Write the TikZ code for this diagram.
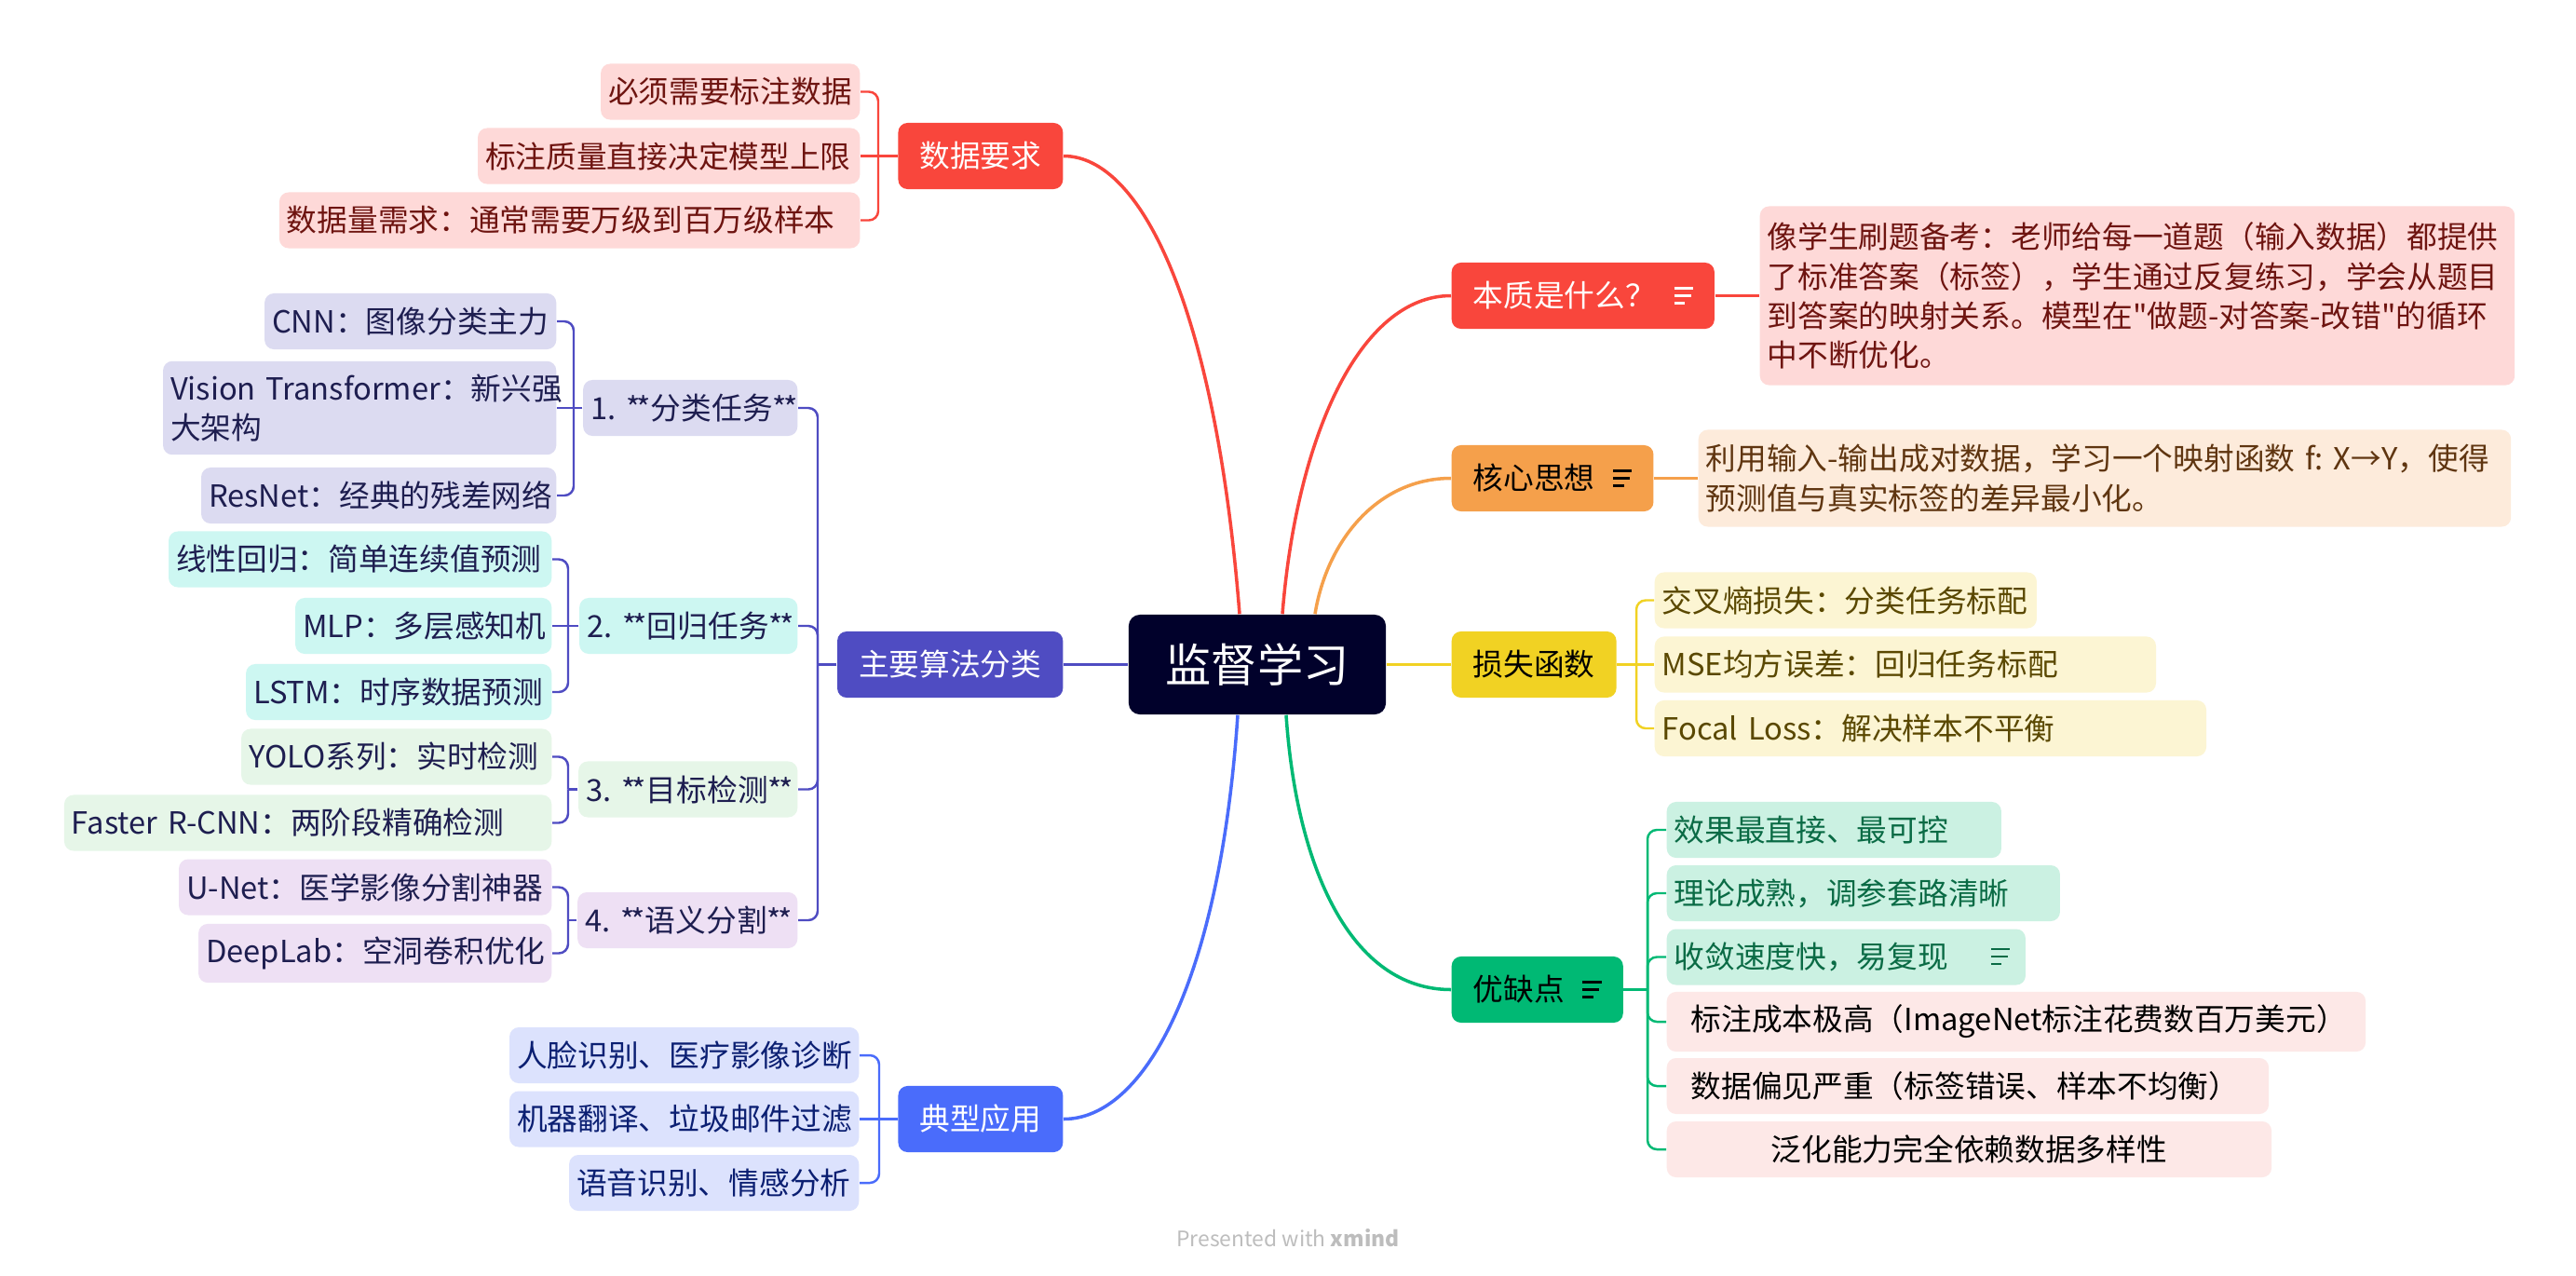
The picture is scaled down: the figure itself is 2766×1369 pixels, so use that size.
\documentclass[tikz,border=0pt]{standalone}
\usepackage{fontspec}
\setmainfont{Noto Sans CJK SC}
\usetikzlibrary{positioning, calc}
\frenchspacing

\definecolor{rootbg}{HTML}{01012B}
\definecolor{mmred}{HTML}{F9463C}
\definecolor{redfill}{HTML}{FED9D8}
\definecolor{redtext}{HTML}{6E1410}
\definecolor{mmpurple}{HTML}{4F4CC2}
\definecolor{clsfill}{HTML}{DCDBF1}
\definecolor{regfill}{HTML}{CDF7F2}
\definecolor{detfill}{HTML}{E6F6E8}
\definecolor{segfill}{HTML}{EEE0F4}
\definecolor{algotext}{HTML}{1E1E50}
\definecolor{mmblue}{HTML}{4A6CFB}
\definecolor{appfill}{HTML}{DCE2FD}
\definecolor{apptext}{HTML}{0B1F72}
\definecolor{mmorange}{HTML}{F5A04B}
\definecolor{corefill}{HTML}{FDEBDB}
\definecolor{coretext}{HTML}{5F3510}
\definecolor{mmyellow}{HTML}{F1D223}
\definecolor{lossfill}{HTML}{FCF5D3}
\definecolor{losstext}{HTML}{5A4800}
\definecolor{mmgreen}{HTML}{00B974}
\definecolor{profill}{HTML}{CBF1E2}
\definecolor{protext}{HTML}{0A6B45}
\definecolor{confill}{HTML}{FDE8E7}
\definecolor{watermark}{HTML}{BDBDBD}

\newcommand{\leaffont}{\fontsize{9.3}{12}\selectfont}
\newcommand{\rootfont}{\fontsize{14}{17}\selectfont}
% xmind note marker
\newcommand{\noteicon}[1][0.6em]{\hspace{#1}\raisebox{0.1em}{\vbox{\hrule width 0.62em height 0.075em \vskip 0.17em \hrule width 0.55em height 0.075em \vskip 0.17em \hrule width 0.35em height 0.075em}}}
% tight double star of the category labels
\newcommand{\stars}{*\kern-0.12em*}

\tikzset{
  rootbox/.style={fill=rootbg, text=white, rounded corners=0.12cm, minimum width=2.76cm, minimum height=1.07cm, font=\rootfont},
  topic/.style={rounded corners=0.1cm, inner xsep=0.23cm, minimum height=0.71cm, font=\leaffont},
  leaf/.style={rounded corners=0.1cm, inner xsep=0.08cm, inner ysep=0.14cm, minimum height=0.6cm, align=left, font=\leaffont},
  dataleaf/.style={leaf, fill=redfill, text=redtext, anchor=east},
  algoleaf/.style={leaf, text=algotext, anchor=east},
  appleaf/.style={leaf, fill=appfill, text=apptext, anchor=east},
  lossleaf/.style={leaf, fill=lossfill, text=losstext, anchor=west},
  proleaf/.style={leaf, fill=profill, text=protext, anchor=west},
  conleaf/.style={leaf, fill=confill, text=black, anchor=west},
  mainline/.style={line width=1pt},
  branch/.style={line width=0.7pt, rounded corners=0.1cm},
}

\begin{document}
\begin{tikzpicture}[x=0.01cm, y=-0.01cm]
  \fill[white] (0,0) rectangle (2766,1369);
  \useasboundingbox (0,0) rectangle (2766,1369);

  % centre and main topics
  \node[rootbox] (root) at (1350,713.5) {监督学习};
  \node[topic, fill=mmred, text=white, anchor=east] (data) at (1142,167.5) {数据要求};
  \node[topic, fill=mmpurple, text=white, anchor=east] (algo) at (1142,713.5) {主要算法分类};
  \node[topic, fill=mmblue, text=white, anchor=east] (app) at (1142,1201.5) {典型应用};
  \node[topic, fill=mmred, text=white, anchor=west] (ess) at (1558,317.5) {本质是什么？\noteicon};
  \node[topic, fill=mmorange, anchor=west] (core) at (1558,513.5) {核心思想\noteicon};
  \node[topic, fill=mmyellow, anchor=west] (loss) at (1558,713.5) {损失函数};
  \node[topic, fill=mmgreen, anchor=west] (pros) at (1558,1062.5) {优缺点\noteicon};

  % data requirements
  \node[dataleaf, text width=2.62cm] (d1) at (924,98.5) {必须需要标注数据};
  \node[dataleaf, text width=3.94cm] (d2) at (924,167.5) {标注质量直接决定模型上限};
  \node[dataleaf, text width=6.07cm] (d3) at (924,236.5) {数据量需求：通常需要万级到百万级样本};

  % algorithm families
  \node[algoleaf, fill=clsfill, text width=2.14cm] (c1) at (857,438) {\mbox{1. \stars 分类任务\stars}};
  \node[algoleaf, fill=regfill, text width=2.18cm] (c2) at (857,672) {\mbox{2. \stars 回归任务\stars}};
  \node[algoleaf, fill=detfill, text width=2.19cm] (c3) at (857,847.5) {\mbox{3. \stars 目标检测\stars}};
  \node[algoleaf, fill=segfill, text width=2.20cm] (c4) at (857,988) {\mbox{4. \stars 语义分割\stars}};
  \node[algoleaf, fill=clsfill, text width=2.97cm] (cnn) at (598,345) {CNN：图像分类主力};
  \node[algoleaf, fill=clsfill, text width=4.06cm] (vit) at (598,438) {\mbox{Vision Transformer：新兴强}\\大架构};
  \node[algoleaf, fill=clsfill, text width=3.65cm] (res) at (598,532) {ResNet：经典的残差网络};
  \node[algoleaf, fill=regfill, text width=3.95cm] (lin) at (593,600.5) {线性回归：简单连续值预测};
  \node[algoleaf, fill=regfill, text width=2.59cm] (mlp) at (593,672) {MLP：多层感知机};
  \node[algoleaf, fill=regfill, text width=3.12cm] (lstm) at (593,743) {LSTM：时序数据预测};
  \node[algoleaf, fill=detfill, text width=3.17cm] (yolo) at (593,812.5) {YOLO系列：实时检测};
  \node[algoleaf, fill=detfill, text width=5.07cm] (frcnn) at (593,883.5) {\mbox{Faster R-CNN：两阶段精确检测}};
  \node[algoleaf, fill=segfill, text width=3.84cm] (unet) at (593,952.5) {U-Net：医学影像分割神器};
  \node[algoleaf, fill=segfill, text width=3.63cm] (deep) at (593,1023.5) {DeepLab：空洞卷积优化};

  % applications
  \node[appleaf, text width=3.59cm] (a1) at (923,1133) {人脸识别、医疗影像诊断};
  \node[appleaf, text width=3.59cm] (a2) at (923,1201.5) {机器翻译、垃圾邮件过滤};
  \node[appleaf, text width=2.95cm] (a3) at (923,1270) {语音识别、情感分析};

  % notes on the right
  \node[leaf, fill=redfill, text=redtext, anchor=west, text width=7.94cm, minimum height=1.92cm] (essd) at (1889,317.5)
    {\mbox{像学生刷题备考：老师给每一道题（输入数据）都提供}\\\mbox{了标准答案（标签），学生通过反复练习，学会从题目}\\\mbox{到答案的映射关系。模型在\textquotedbl 做题-对答案-改错\textquotedbl 的循环}\\中不断优化。};
  \node[leaf, fill=corefill, text=coretext, anchor=west, text width=8.56cm, minimum height=1.04cm] (cored) at (1823,513.5)
    {\mbox{利用输入-输出成对数据，学习一个映射函数 f: X→Y，使得}\\预测值与真实标签的差异最小化。};

  % loss functions
  \node[lossleaf, text width=3.94cm] (l1) at (1776,644.5) {交叉熵损失：分类任务标配};
  \node[lossleaf, text width=5.22cm] (l2) at (1776,713.5) {MSE均方误差：回归任务标配};
  \node[lossleaf, text width=5.76cm] (l3) at (1776,782) {\mbox{Focal Loss：解决样本不平衡}};

  % pros and cons
  \node[proleaf, text width=3.43cm] (p1) at (1789,891) {效果最直接、最可控};
  \node[proleaf, text width=4.06cm] (p2) at (1789,959) {理论成熟，调参套路清晰};
  \node[proleaf, text width=3.69cm] (p3) at (1789,1027.5) {收敛速度快，易复现\noteicon[1.4em]};
  \node[conleaf, text width=7.34cm] (p4) at (1789,1097) {\hspace*{0.55em}标注成本极高（ImageNet标注花费数百万美元）};
  \node[conleaf, text width=6.30cm] (p5) at (1789,1166) {\hspace*{0.55em}数据偏见严重（标签错误、样本不均衡）};
  \node[conleaf, text width=6.33cm, align=center] (p6) at (1789,1234) {泛化能力完全依赖数据多样性};

  \node[text=watermark, font=\fontsize{6.5}{8}\selectfont] (mark) at (1383,1329) {Presented with \textbf{xmind}};

  % centre to main topics
  \draw[mainline, mmred] ($(root.north)+(-19,0)$) .. controls +(-26,-330) and +(83,0) .. (data.east);
  \draw[mainline, mmred] ($(root.north)+(27,0)$) .. controls +(15,-190) and +(-98,0) .. (ess.west);
  \draw[mainline, mmorange] ($(root.north)+(62,0)$) .. controls +(13,-80) and +(-78,0) .. (core.west);
  \draw[mainline, mmyellow] (root.east) -- (loss.west);
  \draw[mainline, mmpurple] (root.west) -- (algo.east);
  \draw[mainline, mmgreen] ($(root.south)+(31,0)$) .. controls +(11,163) and +(-108,0) .. (pros.west);
  \draw[mainline, mmblue] ($(root.south)+(-21,0)$) .. controls +(-19,283) and +(88,0) .. (app.east);

  % branch spines
  \coordinate (dj) at ($(d1.east |- data.west)+(19,0)$);
  \coordinate (aj) at ($(c1.east |- algo.west)+(21,0)$);
  \coordinate (cj1) at ($(cnn.east |- c1.west)+(18,0)$);
  \coordinate (cj2) at ($(lin.east |- c2.west)+(17,0)$);
  \coordinate (cj3) at ($(yolo.east |- c3.west)+(17,0)$);
  \coordinate (cj4) at ($(unet.east |- c4.west)+(17,0)$);
  \coordinate (pj) at ($(a1.east |- app.west)+(21,0)$);
  \coordinate (lj) at ($(l1.west |- loss.east)+(-19,0)$);
  \coordinate (prj) at ($(p1.west |- pros.east)+(-20,0)$);

  \draw[branch, mmred] (data.west) -- (d2.east);
  \foreach \c in {d1,d3} \draw[branch, mmred] (dj) |- (\c.east);
  \draw[branch, mmpurple] (algo.west) -- (aj);
  \foreach \c in {c1,c2,c3,c4} \draw[branch, mmpurple] (aj) |- (\c.east);
  \draw[branch, mmpurple] (c1.west) -- (vit.east);
  \foreach \c in {cnn,res} \draw[branch, mmpurple] (cj1) |- (\c.east);
  \draw[branch, mmpurple] (c2.west) -- (mlp.east);
  \foreach \c in {lin,lstm} \draw[branch, mmpurple] (cj2) |- (\c.east);
  \draw[branch, mmpurple] (c3.west) -- (cj3);
  \foreach \c in {yolo,frcnn} \draw[branch, mmpurple] (cj3) |- (\c.east);
  \draw[branch, mmpurple] (c4.west) -- (cj4);
  \foreach \c in {unet,deep} \draw[branch, mmpurple] (cj4) |- (\c.east);
  \draw[branch, mmblue] (app.west) -- (a2.east);
  \foreach \c in {a1,a3} \draw[branch, mmblue] (pj) |- (\c.east);
  \draw[branch, mmred] (ess.east) -- (essd.west);
  \draw[branch, mmorange] (core.east) -- (cored.west);
  \draw[branch, mmyellow] (loss.east) -- (l2.west);
  \foreach \c in {l1,l3} \draw[branch, mmyellow] (lj) |- (\c.west);
  \draw[branch, mmgreen] (pros.east) -- (prj);
  \foreach \c in {p1,p2,p3,p4,p5,p6} \draw[branch, mmgreen] (prj) |- (\c.west);
\end{tikzpicture}
\end{document}
